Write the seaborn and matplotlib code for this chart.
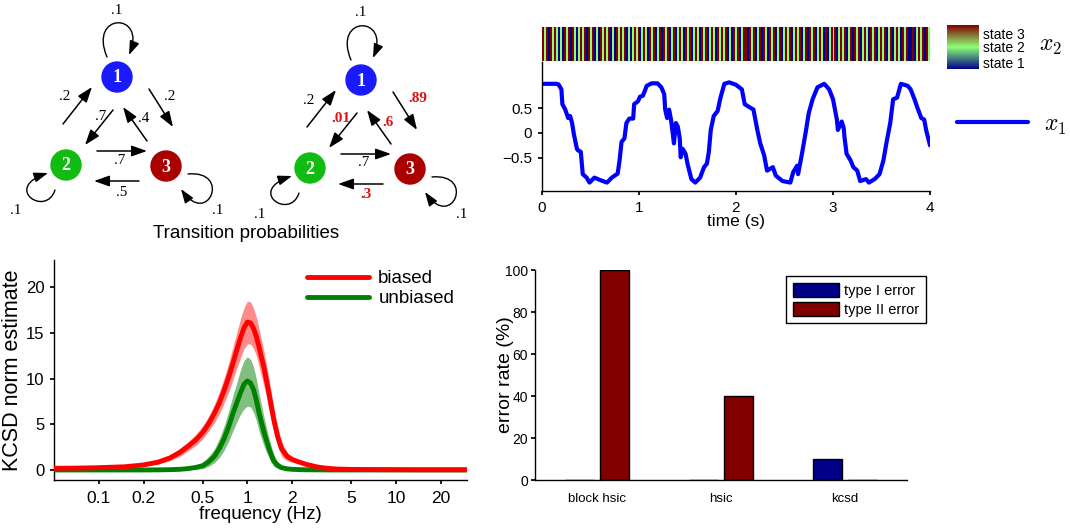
import numpy as np
import pandas as pd
import matplotlib
matplotlib.use("Agg")
import matplotlib.pyplot as plt
import seaborn as sns
from matplotlib.patches import Circle, FancyArrowPatch
from matplotlib.path import Path
from matplotlib.colors import LinearSegmentedColormap
from matplotlib.ticker import NullLocator

# ---------------- data ----------------
# transition diagram labels: loop1, 2->1, 1->2, 3->1, 1->3, 2->3, 3->2, loop2, loop3
probs_original = [".1", ".2", ".7", ".4", ".2", ".7", ".5", ".1", ".1"]
probs_modified = [".1", ".2", ".01", ".6", ".89", ".7", ".3", ".1", ".1"]
probs_changed = [False, False, True, True, True, False, True, False, False]
node_labels = ["1", "2", "3"]

# hidden state sequence x2 (0 .. 4 s)
states_str = ("32313232121323132123231323121323231213232312123231232132312313231"
              "23123213231232132312321323231213231233132312313213231231232312323"
              "12313231232131232312323123132312321323123231231232132311312323132")
states = [int(c) for c in states_str]
state_names = ["state 1", "state 2", "state 3"]

# observed signal x1
t_x1 = [0.0, 0.05, 0.1, 0.15, 0.17, 0.2, 0.21, 0.24, 0.27, 0.29, 0.31, 0.33, 0.36, 0.37,
        0.40, 0.42, 0.46, 0.49, 0.54, 0.60, 0.67, 0.72, 0.78, 0.80, 0.82, 0.85, 0.87,
        0.90, 0.94, 0.95, 0.99, 1.01, 1.04, 1.08, 1.13, 1.19, 1.23, 1.26, 1.27, 1.29,
        1.31, 1.33, 1.35, 1.36, 1.38, 1.40, 1.42, 1.43, 1.45, 1.48, 1.50, 1.54, 1.58,
        1.63, 1.67, 1.70, 1.72, 1.74, 1.77, 1.81, 1.84, 1.88, 1.93, 2.00, 2.06, 2.09,
        2.13, 2.18, 2.22, 2.25, 2.29, 2.32, 2.38, 2.41, 2.48, 2.56, 2.59, 2.63, 2.64,
        2.68, 2.72, 2.75, 2.79, 2.84, 2.91, 2.96, 3.00, 3.04, 3.05, 3.09, 3.11, 3.12,
        3.14, 3.18, 3.21, 3.25, 3.28, 3.34, 3.37, 3.43, 3.48, 3.52, 3.55, 3.59, 3.62,
        3.66, 3.70, 3.77, 3.80, 3.84, 3.87, 3.91, 3.94, 3.96, 4.00]
x1_vals = [0.99, 0.99, 0.99, 0.99, 0.98, 0.88, 0.58, 0.47, 0.30, 0.34, 0.20, -0.04, -0.32,
           -0.35, -0.38, -0.83, -0.90, -1.00, -0.90, -0.95, -1.00, -0.90, -0.82, -0.55,
           -0.18, -0.11, 0.20, 0.29, 0.29, 0.58, 0.64, 0.73, 0.75, 0.95, 1.00, 1.00, 0.92,
           0.78, 0.47, 0.30, 0.47, 0.27, -0.04, -0.21, 0.20, 0.13, -0.11, -0.49, -0.32,
           -0.42, -0.62, -0.93, -1.00, -0.90, -0.69, -0.62, -0.38, 0.06, 0.34, 0.44, 0.71,
           0.99, 1.02, 0.97, 0.88, 0.58, 0.53, 0.47, 0.06, -0.21, -0.45, -0.76, -0.69,
           -0.86, -0.97, -1.00, -0.79, -0.66, -0.83, -0.42, 0.03, 0.40, 0.68, 0.92, 0.99,
           0.88, 0.68, 0.27, 0.06, 0.23, 0.10, -0.11, -0.42, -0.55, -0.69, -0.76, -0.97,
           -0.93, -1.00, -0.93, -0.83, -0.55, -0.21, 0.20, 0.68, 0.71, 0.99, 0.95, 0.88,
           0.68, 0.51, 0.30, 0.27, 0.06, -0.25]

# KCSD norm estimates vs frequency
freq = [0.05, 0.07, 0.1, 0.15, 0.2, 0.25, 0.3, 0.35, 0.4, 0.45, 0.5, 0.55, 0.6, 0.65,
        0.7, 0.75, 0.8, 0.85, 0.9, 0.95, 1.0, 1.05, 1.1, 1.15, 1.2, 1.3, 1.4, 1.5, 1.6,
        1.7, 1.85, 2.0, 2.2, 2.5, 3.0, 3.5, 4.0, 5.0, 7.0, 10.0, 15.0, 20.0, 30.0]
biased_mean = [0.18, 0.2, 0.25, 0.35, 0.55, 0.85, 1.3, 1.9, 2.6, 3.3, 4.1, 5.1, 6.2, 7.4,
               8.8, 10.2, 11.7, 13.2, 14.5, 15.6, 16.2, 16.1, 15.5, 14.6, 13.4, 11.0, 8.3,
               5.6, 3.6, 2.3, 1.5, 1.15, 0.9, 0.6, 0.3, 0.17, 0.1, 0.06, 0.04, 0.03, 0.02,
               0.02, 0.02]
biased_upper = [0.25, 0.27, 0.32, 0.45, 0.7, 1.1, 1.65, 2.35, 3.1, 3.9, 4.8, 5.9, 7.2, 8.6,
                10.2, 11.8, 13.5, 15.1, 16.6, 17.8, 18.5, 18.4, 17.7, 16.7, 15.4, 12.8, 9.9,
                7.0, 4.7, 3.1, 1.9, 1.4, 1.1, 0.75, 0.4, 0.22, 0.14, 0.09, 0.06, 0.05, 0.04,
                0.04, 0.04]
biased_lower = [0.12, 0.14, 0.18, 0.26, 0.42, 0.65, 1.0, 1.5, 2.1, 2.7, 3.4, 4.3, 5.2, 6.2,
                7.4, 8.6, 9.9, 11.2, 12.3, 13.3, 13.8, 13.8, 13.3, 12.5, 11.3, 9.0, 6.6,
                4.3, 2.6, 1.5, 1.0, 0.85, 0.7, 0.45, 0.2, 0.12, 0.06, 0.03, 0.02, 0.01, 0.0,
                0.0, 0.0]
unbiased_mean = [0.0, 0.0, 0.0, 0.0, 0.0, 0.01, 0.03, 0.07, 0.15, 0.28, 0.45, 0.9, 1.5, 2.4,
                 3.5, 4.8, 6.2, 7.4, 8.5, 9.4, 9.75, 9.5, 8.8, 7.6, 6.2, 4.0, 2.3, 1.0, 0.5,
                 0.25, 0.12, 0.07, 0.04, 0.02, 0.01, 0.0, 0.0, 0.0, 0.0, 0.0, 0.0, 0.0, 0.0]
unbiased_upper = [0.02, 0.02, 0.02, 0.03, 0.03, 0.04, 0.06, 0.12, 0.3, 0.55, 0.85, 1.5, 2.3,
                  3.5, 4.9, 6.5, 8.2, 9.6, 11.0, 12.0, 12.4, 12.1, 11.3, 9.9, 8.3, 5.6, 3.4,
                  1.7, 0.9, 0.5, 0.25, 0.15, 0.09, 0.05, 0.03, 0.02, 0.02, 0.02, 0.02, 0.02,
                  0.02, 0.02, 0.02]
unbiased_lower = [0.0, 0.0, 0.0, 0.0, 0.0, 0.0, 0.0, 0.01, 0.04, 0.08, 0.15, 0.4, 0.8, 1.4,
                  2.2, 3.2, 4.3, 5.3, 6.1, 6.7, 7.0, 6.9, 6.3, 5.4, 4.2, 2.5, 1.3, 0.4, 0.15,
                  0.05, 0.02, 0.0, 0.0, 0.0, 0.0, 0.0, 0.0, 0.0, 0.0, 0.0, 0.0, 0.0, 0.0]
freq_ticks = [0.1, 0.2, 0.5, 1, 2, 5, 10, 20]
freq_ticklabels = ["0.1", "0.2", "0.5", "1", "2", "5", "10", "20"]

# error rates
methods = ["block hsic", "hsic", "kcsd"]
type1_error = [0, 0, 10]
type2_error = [100, 40, 0]

# ---------------- style ----------------
sns.set_theme(style="ticks")
plt.rcParams["font.family"] = ["Liberation Sans", "DejaVu Sans"]
plt.rcParams["mathtext.fontset"] = "cm"
for k in ["axes.edgecolor", "xtick.color", "ytick.color", "text.color", "axes.labelcolor"]:
    plt.rcParams[k] = "black"
plt.rcParams["axes.linewidth"] = 1.0

W, H = 1070, 531
fig = plt.figure(figsize=(W / 100, H / 100), dpi=100)


def rect(l, t, r, b):
    return [l / W, 1 - b / H, (r - l) / W, (b - t) / H]


def fx(x):
    return x / W


def fy(y):
    return 1 - y / H


# ---------------- transition diagrams ----------------
ax_d = fig.add_axes(rect(0, 0, 500, 250))
ax_d.set_xlim(0, 500)
ax_d.set_ylim(250, 0)
ax_d.axis("off")

node_pos = [(117, 77), (66, 165), (166, 166)]
node_cols = ["#1a1aff", "#12bb12", "#aa0000"]
arrow_style = "-|>,head_length=0.85,head_width=0.3"

straight = [((63, 124), (92, 87)), ((113, 110), (85, 145)), ((147, 141), (123, 107)),
            ((149, 89), (173, 127)), ((97, 151), (147, 151)), ((139, 181), (94, 181))]
loops = [[(107, 57), (88, 12), (147, 12), (129, 55)],
         [(55, 190), (46, 218), (2, 188), (48, 173)],
         [(188, 174), (232, 170), (208, 228), (181, 189)]]
# label anchor positions (x, y, ha) in order loop1, 2->1, 1->2, 3->1, 1->3, 2->3, 3->2, loop2, loop3
label_pos = [(117, 10, "center"), (70, 97, "right"), (106, 116, "right"),
             (138, 119, "left"), (164, 96, "left"), (120, 160, "center"),
             (116, 192, "left"), (16, 211, "center"), (218, 211, "center")]


def draw_chain(dx, dy, labels, changed):
    for (a, b) in straight:
        ax_d.add_patch(FancyArrowPatch((a[0] + dx, a[1] + dy), (b[0] + dx, b[1] + dy),
                                       arrowstyle=arrow_style, mutation_scale=11, lw=1.1,
                                       color="black", shrinkA=0, shrinkB=0))
    for lp in loops:
        verts = [(x + dx, y + dy) for x, y in lp]
        p = Path(verts, [Path.MOVETO, Path.CURVE4, Path.CURVE4, Path.CURVE4])
        ax_d.add_patch(FancyArrowPatch(path=p, arrowstyle=arrow_style, mutation_scale=10,
                                       lw=1.0, color="black"))
    for (x, y), c, n in zip(node_pos, node_cols, node_labels):
        ax_d.add_patch(Circle((x + dx, y + dy), 15, color=c, zorder=3))
        ax_d.text(x + dx, y + dy + 1, n, color="white", fontsize=13, fontweight="bold",
                  family="Liberation Serif", ha="center", va="center", zorder=4)
    for (x, y, ha), lab, ch in zip(label_pos, labels, changed):
        if ch:
            ax_d.text(x + dx, y + dy, lab, color="#e01010", fontsize=11, fontweight="bold",
                      family="Liberation Serif", ha=ha, va="center")
        else:
            ax_d.text(x + dx, y + dy, lab, color="black", fontsize=11,
                      family="Liberation Serif", ha=ha, va="center")


draw_chain(0, 0, probs_original, [False] * 9)
draw_chain(244, 3, probs_modified, probs_changed)
fig.text(fx(246), fy(234), "Transition probabilities", fontsize=13.5, ha="center", va="center")

# ---------------- state bar (x2) ----------------
state_cmap = LinearSegmentedColormap.from_list(
    "states", [(0.0, 0.0, 0.55), (0.55, 1.0, 0.45), (0.5, 0.0, 0.0)])
ax_s = fig.add_axes(rect(542, 27, 930, 61))
ax_cb = fig.add_axes(rect(947, 25, 979, 69))
sns.heatmap(np.array([states]), ax=ax_s, cmap=state_cmap, vmin=1, vmax=3, cbar=True,
            cbar_ax=ax_cb, xticklabels=False, yticklabels=False)
cb = ax_s.collections[0].colorbar
cb.set_ticks([1.28, 2.0, 2.62])
cb.set_ticklabels(state_names)
cb.ax.tick_params(length=0, labelsize=10, pad=3)
cb.outline.set_visible(False)
fig.text(fx(1039), fy(46), "$x_2$", fontsize=17, ha="left", va="center")

# ---------------- x1 signal ----------------
ax_x = fig.add_axes(rect(542, 62, 930, 191))
sns.lineplot(x=t_x1, y=x1_vals, ax=ax_x, color="#0000ff", lw=3, label="$x_1$")
ax_x.set_xlim(0, 4)
ax_x.set_ylim(-1.17, 1.43)
ax_x.set_xticks([0, 1, 2, 3, 4])
ax_x.set_xticklabels(["0", "1", "2", "3", "4"])
ax_x.set_yticks([-0.5, 0, 0.5])
ax_x.set_yticklabels(["\u22120.5", "0", "0.5"])
ax_x.tick_params(labelsize=11, length=3, pad=4)
for s in ["top", "right"]:
    ax_x.spines[s].set_visible(False)
ax_x.set_xlabel("time (s)", fontsize=12.5)
ax_x.xaxis.set_label_coords(0.5, (191 - 214) / 129)
ax_x.set_ylabel("")
ax_x.legend(loc="center left", bbox_to_anchor=(fx(957), fy(125)),
            bbox_transform=fig.transFigure, frameon=False, fontsize=17,
            handlelength=3.0, handletextpad=0.7, borderpad=0, borderaxespad=0)

# ---------------- KCSD ----------------
ax_k = fig.add_axes(rect(54, 260, 467, 480))
ax_k.fill_between(freq, biased_lower, biased_upper, color="#ff8a8a", lw=0, zorder=1)
ax_k.fill_between(freq, unbiased_lower, unbiased_upper, color="#80bf80", lw=0, zorder=1)
sns.lineplot(x=freq, y=unbiased_mean, ax=ax_k, color="#008000", lw=3.5, label="unbiased",
             zorder=3)
sns.lineplot(x=freq, y=biased_mean, ax=ax_k, color="#ff0000", lw=3.5, label="biased",
             zorder=4)
ax_k.set_xscale("log")
ax_k.set_xlim(0.05, 30)
ax_k.set_ylim(-1.1, 23)
ax_k.set_xticks(freq_ticks)
ax_k.set_xticklabels(freq_ticklabels)
ax_k.xaxis.set_minor_locator(NullLocator())
ax_k.set_yticks([0, 5, 10, 15, 20])
ax_k.set_yticklabels(["0", "5", "10", "15", "20"])
ax_k.tick_params(axis="x", labelsize=12.5, length=3, pad=5)
ax_k.tick_params(axis="y", labelsize=12, length=3, pad=4)
for s in ["top", "right"]:
    ax_k.spines[s].set_visible(False)
ax_k.set_xlabel("frequency (Hz)", fontsize=13.5)
ax_k.xaxis.set_label_coords(0.5, (480 - 506) / 220)
ax_k.set_ylabel("KCSD norm estimate", fontsize=15.5)
ax_k.yaxis.set_label_coords((23 - 54) / 413, 0.5)
hk, lk = ax_k.get_legend_handles_labels()
order = [lk.index("biased"), lk.index("unbiased")]
ax_k.legend([hk[i] for i in order], [lk[i] for i in order], loc="upper left",
            bbox_to_anchor=(fx(307), fy(270)), bbox_transform=fig.transFigure,
            frameon=False, fontsize=13.5, handlelength=3.3, handletextpad=0.5,
            labelspacing=0.15, borderpad=0, borderaxespad=0)

# ---------------- error rates ----------------
ax_b = fig.add_axes(rect(535, 270, 907, 480))
df_bar = pd.DataFrame({
    "method": methods * 2,
    "error": type1_error + type2_error,
    "type": ["type I error"] * len(methods) + ["type II error"] * len(methods),
})
sns.barplot(data=df_bar, x="method", y="error", hue="type",
            palette={"type I error": "#000088", "type II error": "#800000"},
            width=0.55, gap=0.15, edgecolor="black", linewidth=1, saturation=1,
            errorbar=None, ax=ax_b)
ax_b.set_xlim(-0.5, 2.5)
ax_b.set_ylim(0, 100)
ax_b.set_yticks([0, 20, 40, 60, 80, 100])
ax_b.tick_params(axis="y", labelsize=10, length=3, pad=2)
ax_b.tick_params(axis="x", labelsize=9.5, length=0, pad=9)
for s in ["top", "right"]:
    ax_b.spines[s].set_visible(False)
ax_b.set_xlabel("")
ax_b.set_ylabel("error rate (%)", fontsize=14)
ax_b.yaxis.set_label_coords((514 - 535) / 372, 0.5)
hb, lb = ax_b.get_legend_handles_labels()
leg = ax_b.legend(hb, lb, loc="upper right", bbox_to_anchor=(fx(926), fy(276)),
                  bbox_transform=fig.transFigure, fontsize=10.5, frameon=True,
                  fancybox=False, edgecolor="black", framealpha=1, handlelength=3.2,
                  handleheight=1.1, handletextpad=0.35, labelspacing=0.3, borderpad=0.45,
                  borderaxespad=0)
leg.get_frame().set_linewidth(1.0)

fig.savefig("out.png", dpi=100)
